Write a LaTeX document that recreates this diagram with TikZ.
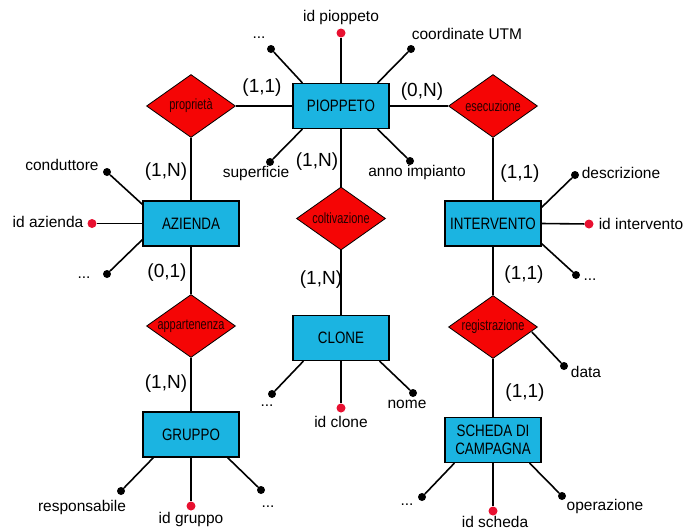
\documentclass[tikz,border=0pt]{standalone}
\usepackage{fontspec}
\setmainfont{Liberation Sans}
\newfontfamily\narrowfont[FakeStretch=0.81]{Liberation Sans}
\newfontfamily\relfont[FakeStretch=0.74]{Liberation Sans}
\usetikzlibrary{shapes.geometric}
\definecolor{entblue}{RGB}{27,180,225}
\definecolor{relred}{RGB}{245,5,5}
\definecolor{keyred}{RGB}{232,16,48}

\begin{document}
\begin{tikzpicture}[x=1pt, y=-1pt,
	ent/.style={draw, line width=1.2pt, fill=entblue, minimum width=96pt, minimum height=45pt, inner sep=0pt, align=center, font=\narrowfont\fontsize{16.5}{18}\selectfont},
	rel/.style={diamond, draw, line width=0.8pt, fill=relred, aspect=1.4, minimum width=89pt, minimum height=63pt, inner sep=0pt, text=black!85!red, font=\relfont\fontsize{14.8}{16}\selectfont},
	att/.style={circle, fill=black, minimum size=8pt, inner sep=0pt},
	key/.style={circle, fill=keyred, minimum size=9pt, inner sep=0pt},
	lbl/.style={inner sep=0pt, font=\fontsize{15.5}{18}\selectfont},
	card/.style={inner sep=0pt, font=\fontsize{19}{22}\selectfont},
	link/.style={line width=1.6pt}]
	\useasboundingbox (0,0) rectangle (683,531);

		\node[ent] (P) at (341,106) {PIOPPETO};
			\node[att] (P1) at (271,49) {};
			\node[key] (P2) at (341,33) {};
			\node[att] (P3) at (411,49) {};
			\node[att] (P4) at (270,162) {};
			\node[att] (P5) at (410,161) {};
			\node[lbl] (P1') at (259,38) {...};
			\node[lbl] (P2') at (341,17) {id pioppeto};
			\node[lbl] (P3') at (467,34) {coordinate UTM};
			\node[lbl] (P4') at (256,173) {superficie};
			\node[lbl] (P5') at (417,172) {anno impianto};
			\draw[link] ([xshift=10pt]P.north west) -- (P1);
			\draw[link] (P.north) -- (P2);
			\draw[link] ([xshift=-12pt]P.north east) -- (P3);
			\draw[link] ([xshift=10pt]P.south west) -- (P4);
			\draw[link] ([xshift=-12pt]P.south east) -- (P5);
		\node[rel] (prop) at (191,106) {proprietà};
		\node[rel] (esec) at (493,106) {esecuzione};
		\node[card] (c1) at (262,88) {(1,1)};
		\node[card] (c2) at (422,92) {(0,N)};

		\node[ent] (Az) at (191,223.5) {AZIENDA};
			\node[att] (Az1) at (107,172) {};
			\node[key] (Az2) at (92,223.5) {};
			\node[att] (Az3) at (107,274) {};
			\node[lbl] (Az1') at (62,165) {conduttore};
			\node[lbl] (Az2') at (48,222) {id azienda};
			\node[lbl] (Az3') at (84,278) {...};
			\draw[link] ([yshift=-4pt]Az.north west) -- (Az1);
			\draw[link] (Az.west) -- (Az2);
			\draw[link] ([yshift=7pt]Az.south west) -- (Az3);
		\node[card] (c3) at (166,172) {(1,N)};
		\node[card] (c4) at (167,273) {(0,1)};
		\node[rel] (app) at (191,326) {appartenenza};
		\node[card] (c5) at (166,384) {(1,N)};

		\node[ent] (Gr) at (191,434.5) {GRUPPO};
			\node[att] (Gr1) at (121,491) {};
			\node[key] (Gr2) at (191,506) {};
			\node[att] (Gr3) at (261,490) {};
			\node[lbl] (Gr1') at (82,507) {responsabile};
			\node[lbl] (Gr2') at (191,519) {id gruppo};
			\node[lbl] (Gr3') at (268,507) {...};
			\draw[link] ([xshift=11pt]Gr.south west) -- (Gr1);
			\draw[link] (Gr.south) -- (Gr2);
			\draw[link] ([xshift=-12pt]Gr.south east) -- (Gr3);

		\node[rel] (colt) at (341,218.5) {coltivazione};
		\node[card] (c6) at (317,162) {(1,N)};
		\node[card] (c7) at (321,280) {(1,N)};
		\node[ent] (Cl) at (341,338) {CLONE};
			\node[att] (Cl1) at (272,394) {};
			\node[key] (Cl2) at (341,408) {};
			\node[att] (Cl3) at (413,393) {};
			\node[lbl] (Cl1') at (267,406) {...};
			\node[lbl] (Cl2') at (341,422) {id clone};
			\node[lbl] (Cl3') at (407,404) {nome};
			\draw[link] ([xshift=11pt]Cl.south west) -- (Cl1);
			\draw[link] (Cl.south) -- (Cl2);
			\draw[link] ([xshift=-10pt]Cl.south east) -- (Cl3);

		\node[ent] (Int) at (493,223.5) {INTERVENTO};
			\node[att] (Int1) at (575,175) {};
			\node[key] (Int2) at (589,224) {};
			\node[att] (Int3) at (576,275) {};
			\node[lbl] (Int1') at (621,173) {descrizione};
			\node[lbl] (Int2') at (641,224) {id intervento};
			\node[lbl] (Int3') at (590,280) {...};
			\draw[link] ([yshift=-7pt]Int.north east) -- (Int1);
			\draw[link] (Int.east) -- (Int2);
			\draw[link] ([yshift=3pt]Int.south east) -- (Int3);
		\node[card] (c8) at (520,174) {(1,1)};
		\node[card] (c9) at (524,275) {(1,1)};
		\node[rel] (reg) at (493,327) {registrazione};
			\node[att] (reg1) at (564,366) {};
			\node[lbl] (reg1') at (586,372) {data};
			\draw[link] ([xshift=-6pt, yshift=-5pt]reg.east) -- (reg1);
		\node[card] (c10) at (525,393) {(1,1)};

		\node[ent] (Sc) at (493,440) {SCHEDA DI\\CAMPAGNA};
			\node[att] (Sc1) at (422,497) {};
			\node[key] (Sc2) at (493,511) {};
			\node[att] (Sc3) at (562,496) {};
			\node[lbl] (Sc1') at (407,505) {...};
			\node[lbl] (Sc2') at (495,522) {id scheda};
			\node[lbl] (Sc3') at (605,506) {operazione};
			\draw[link] ([xshift=10pt]Sc.south west) -- (Sc1);
			\draw[link] (Sc.south) -- (Sc2);
			\draw[link] ([xshift=-12pt]Sc.south east) -- (Sc3);

		\draw[link] (prop) -- (P);
		\draw[link] (P) -- (esec);
		\draw[link] (prop) -- (Az);
		\draw[link] (Az) -- (app);
		\draw[link] (app) -- (Gr);
		\draw[link] (P) -- (colt);
		\draw[link] (colt) -- (Cl);
		\draw[link] (esec) -- (Int);
		\draw[link] (Int) -- (reg);
		\draw[link] (reg) -- (Sc);
	\end{tikzpicture}
\end{document}
